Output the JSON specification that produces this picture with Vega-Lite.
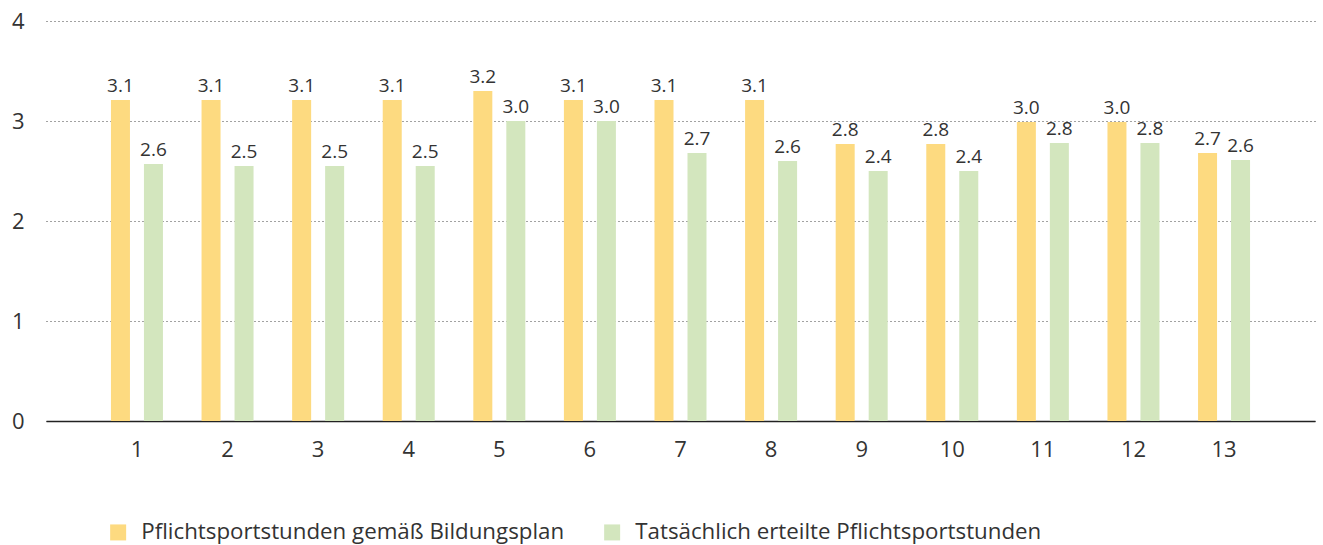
{
  "$schema": "https://vega.github.io/schema/vega-lite/v6.json",
  "width": 1269,
  "height": 400,
  "autosize": {"type": "none"},
  "padding": {"left": 46, "top": 21, "right": 8, "bottom": 124},
  "background": "white",
  "config": {
    "font": "Open Sans",
    "view": {"stroke": null}
  },
  "data": {
    "values": [
      {"klasse": 1, "serie": "Pflichtsportstunden gemäß Bildungsplan", "wert": 3.21, "label": "3.1"},
      {"klasse": 1, "serie": "Tatsächlich erteilte Pflichtsportstunden", "wert": 2.57, "label": "2.6"},
      {"klasse": 2, "serie": "Pflichtsportstunden gemäß Bildungsplan", "wert": 3.21, "label": "3.1"},
      {"klasse": 2, "serie": "Tatsächlich erteilte Pflichtsportstunden", "wert": 2.55, "label": "2.5"},
      {"klasse": 3, "serie": "Pflichtsportstunden gemäß Bildungsplan", "wert": 3.21, "label": "3.1"},
      {"klasse": 3, "serie": "Tatsächlich erteilte Pflichtsportstunden", "wert": 2.55, "label": "2.5"},
      {"klasse": 4, "serie": "Pflichtsportstunden gemäß Bildungsplan", "wert": 3.21, "label": "3.1"},
      {"klasse": 4, "serie": "Tatsächlich erteilte Pflichtsportstunden", "wert": 2.55, "label": "2.5"},
      {"klasse": 5, "serie": "Pflichtsportstunden gemäß Bildungsplan", "wert": 3.30, "label": "3.2"},
      {"klasse": 5, "serie": "Tatsächlich erteilte Pflichtsportstunden", "wert": 3.00, "label": "3.0"},
      {"klasse": 6, "serie": "Pflichtsportstunden gemäß Bildungsplan", "wert": 3.21, "label": "3.1"},
      {"klasse": 6, "serie": "Tatsächlich erteilte Pflichtsportstunden", "wert": 3.00, "label": "3.0"},
      {"klasse": 7, "serie": "Pflichtsportstunden gemäß Bildungsplan", "wert": 3.21, "label": "3.1"},
      {"klasse": 7, "serie": "Tatsächlich erteilte Pflichtsportstunden", "wert": 2.68, "label": "2.7"},
      {"klasse": 8, "serie": "Pflichtsportstunden gemäß Bildungsplan", "wert": 3.21, "label": "3.1"},
      {"klasse": 8, "serie": "Tatsächlich erteilte Pflichtsportstunden", "wert": 2.60, "label": "2.6"},
      {"klasse": 9, "serie": "Pflichtsportstunden gemäß Bildungsplan", "wert": 2.77, "label": "2.8"},
      {"klasse": 9, "serie": "Tatsächlich erteilte Pflichtsportstunden", "wert": 2.50, "label": "2.4"},
      {"klasse": 10, "serie": "Pflichtsportstunden gemäß Bildungsplan", "wert": 2.77, "label": "2.8"},
      {"klasse": 10, "serie": "Tatsächlich erteilte Pflichtsportstunden", "wert": 2.50, "label": "2.4"},
      {"klasse": 11, "serie": "Pflichtsportstunden gemäß Bildungsplan", "wert": 2.99, "label": "3.0"},
      {"klasse": 11, "serie": "Tatsächlich erteilte Pflichtsportstunden", "wert": 2.78, "label": "2.8"},
      {"klasse": 12, "serie": "Pflichtsportstunden gemäß Bildungsplan", "wert": 2.99, "label": "3.0"},
      {"klasse": 12, "serie": "Tatsächlich erteilte Pflichtsportstunden", "wert": 2.78, "label": "2.8"},
      {"klasse": 13, "serie": "Pflichtsportstunden gemäß Bildungsplan", "wert": 2.68, "label": "2.7"},
      {"klasse": 13, "serie": "Tatsächlich erteilte Pflichtsportstunden", "wert": 2.61, "label": "2.6"}
    ]
  },
  "encoding": {
    "x": {
      "field": "klasse",
      "type": "ordinal",
      "scale": {"paddingInner": 0.426, "paddingOuter": 0.717},
      "axis": {
        "title": null,
        "labelAngle": 0,
        "ticks": false,
        "domainColor": "#222222",
        "domainWidth": 1.5,
        "labelPadding": 18,
        "labelFontSize": 22,
        "labelColor": "#333333",
        "grid": false
      }
    },
    "xOffset": {
      "field": "serie",
      "type": "nominal",
      "sort": ["Pflichtsportstunden gemäß Bildungsplan", "Tatsächlich erteilte Pflichtsportstunden"],
      "scale": {"paddingInner": 0.424, "paddingOuter": 0}
    },
    "y": {
      "field": "wert",
      "type": "quantitative",
      "scale": {"domain": [0, 4]},
      "axis": {
        "title": null,
        "values": [0, 1, 2, 3, 4],
        "domain": false,
        "ticks": false,
        "grid": true,
        "gridDash": [1, 3],
        "gridColor": "#444444",
        "gridWidth": 1,
        "labelPadding": 22,
        "labelFontSize": 22,
        "labelColor": "#333333"
      }
    }
  },
  "layer": [
    {
      "mark": {"type": "bar"},
      "encoding": {
        "color": {
          "field": "serie",
          "type": "nominal",
          "sort": ["Pflichtsportstunden gemäß Bildungsplan", "Tatsächlich erteilte Pflichtsportstunden"],
          "scale": {"range": ["#FDDA80", "#D3E6BE"]},
          "legend": {
            "title": null,
            "orient": "none",
            "direction": "horizontal",
            "legendX": 61,
            "legendY": 500,
            "symbolType": "square",
            "symbolSize": 256,
            "symbolStrokeWidth": 0,
            "labelFontSize": 22.3,
            "labelColor": "#333333",
            "labelOffset": 12,
            "labelLimit": 0,
            "columnPadding": 36
          }
        }
      }
    },
    {
      "mark": {"type": "text", "baseline": "bottom", "dy": -4, "fontSize": 19, "color": "#333333"},
      "encoding": {"text": {"field": "label"}}
    }
  ]
}
